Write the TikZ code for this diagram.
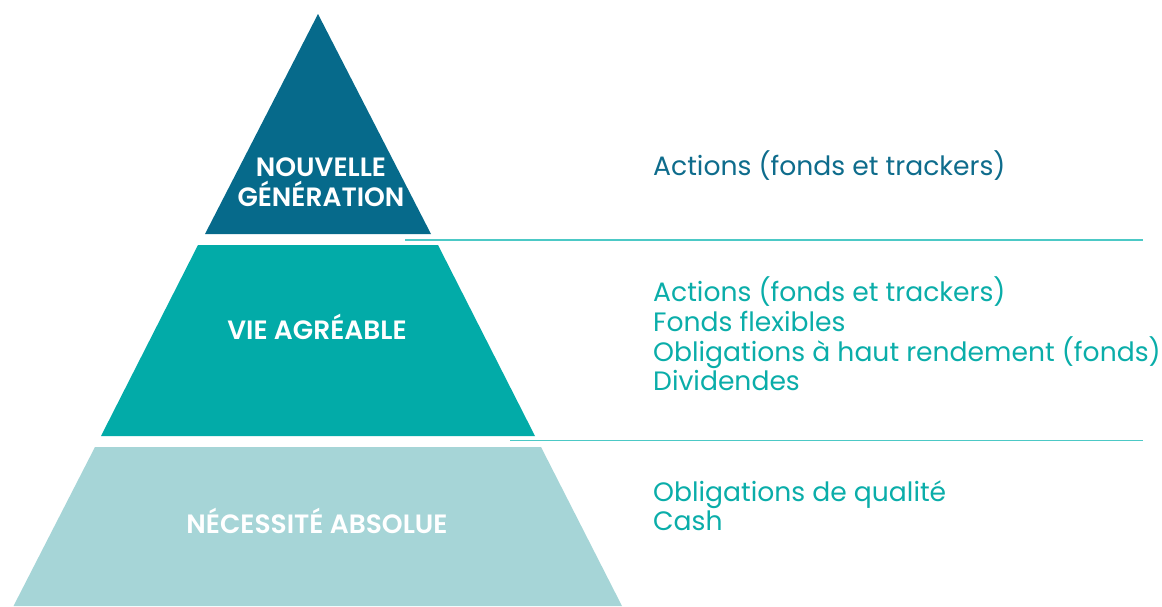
\documentclass[tikz,border=0pt]{standalone}
\usepackage{fontspec}
\setmainfont{Poppins}[BoldFont={Poppins SemiBold}]
\definecolor{cdark}{HTML}{066A8B}
\definecolor{cmid}{HTML}{02ABA8}
\definecolor{clight}{HTML}{A6D5D7}
\definecolor{cline}{HTML}{4CC9C6}
\definecolor{ctop}{HTML}{0E6C8C}
\definecolor{cteal}{HTML}{0AADA9}
\begin{document}
\begin{tikzpicture}[x=1pt,y=-1pt,
  lvl/.style={text=white,font=\fontsize{26.5}{30}\selectfont\bfseries,anchor=base,inner sep=0pt},
  items/.style={font=\fontsize{26.6}{29.7}\selectfont,anchor=base west,inner sep=0pt},
  sep/.style={draw=cline,line width=1.2pt}]
\useasboundingbox (0,0) rectangle (1162,606);
\fill[cdark] (318,14) -- (431,234) -- (205,234) -- cycle;
\fill[cmid] (198,245) -- (438,245) -- (535,436) -- (101,436) -- cycle;
\fill[clight] (95,447) -- (541,447) -- (622,606) -- (13.5,606) -- cycle;
\coordinate (l1a) at (405,240);
\coordinate (l1b) at (1143,240);
\coordinate (l2a) at (510,440.5);
\coordinate (l2b) at (1143,440.5);
\draw[sep] (l1a) -- (l1b);
\draw[sep] (l2a) -- (l2b);
\node[lvl] (ng1) at (321,176.7) {NOUVELLE};
\node[lvl] (ng2) at (321,206.7) {GÉNÉRATION};
\node[lvl] (va) at (317,339) {VIE AGRÉABLE};
\node[lvl] (na) at (317,533) {NÉCESSITÉ ABSOLUE};
\node[items,text=ctop] (t1) at (653,175) {Actions (fonds et trackers)};
\node[items,text=cteal] (t2a) at (653,301.7) {Actions (fonds et trackers)};
\node[items,text=cteal] (t2b) at (653,331.4) {Fonds flexibles};
\node[items,text=cteal] (t2c) at (653,361.1) {Obligations à haut rendement (fonds)};
\node[items,text=cteal] (t2d) at (653,390.8) {Dividendes};
\node[items,text=cteal] (t3a) at (653,501) {Obligations de qualité};
\node[items,text=cteal] (t3b) at (653,530.7) {Cash};
\end{tikzpicture}
\end{document}
